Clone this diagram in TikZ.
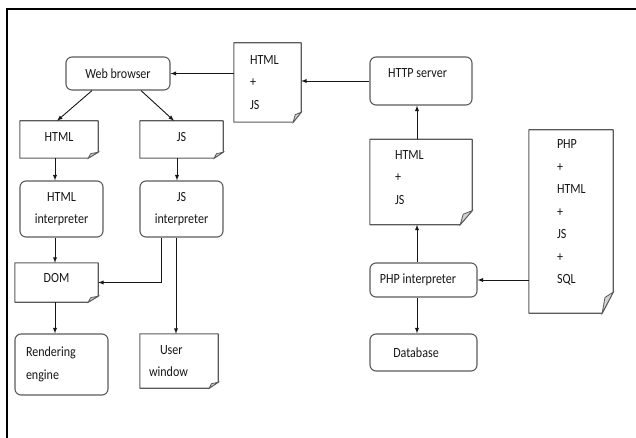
\documentclass[tikz,border=0pt]{standalone}
\usepackage{fontspec}
\setmainfont[FakeStretch=0.86]{Carlito}
\definecolor{boxgray}{HTML}{5A5A5A}
\definecolor{inkgray}{HTML}{161616}

\begin{document}
\begin{tikzpicture}[>=latex, x=1pt, y=-1pt]

    % styles
    \tikzstyle{box}=[draw=boxgray, line width=1.1pt, rounded corners=6pt, inner sep=0pt, text=inkgray, font=\fontsize{14}{22.5}\selectfont]
    \tikzstyle{doc}=[inner sep=0pt, text=inkgray, font=\fontsize{14}{22.5}\selectfont]
    \tikzstyle{docline}=[draw=boxgray, line width=1.1pt, line join=round]
    \tikzstyle{fold}=[draw=boxgray, line width=0.8pt, fill=gray!35]
    \tikzstyle{flow}=[->, line width=0.9pt, inkgray]

    \useasboundingbox (0,0) rectangle (636,438);

    % frame
    \draw[line width=1.6pt] (636,9) -- (7,9) -- (7,438);

    % browser side
    \node[box, minimum width=104, minimum height=33] (browser) at (118,73.5) {Web browser};
    \node[doc, minimum width=67, minimum height=79, text width=35, align=left] (doctop) at (267.5,82.5) {HTML\\+\\JS};
    \node[doc, minimum width=78, minimum height=37, text depth=5] (html) at (59,139.5) {HTML};
    \node[doc, minimum width=83, minimum height=37, text depth=5] (js) at (181.5,139.5) {JS};
    \node[box, minimum width=83, minimum height=56, align=center] (htmlint) at (61.5,209) {HTML\\interpreter};
    \node[box, minimum width=83, minimum height=56, align=center] (jsint) at (181.5,209) {JS\\interpreter};
    \node[doc, minimum width=83, minimum height=39, text depth=9] (dom) at (56.5,282.5) {DOM};
    \node[box, minimum width=93, minimum height=61, text width=71, align=left] (render) at (61.5,364.5) {Rendering\\engine};
    \node[doc, minimum width=78, minimum height=54, text width=60, align=left] (userwin) at (179,361) {\hspace*{11pt}User\\window};

    % server side
    \node[box, minimum width=102, minimum height=48, text depth=16] (httpserver) at (421,81) {HTTP server\hspace*{7pt}};
    \node[doc, minimum width=102, minimum height=85, text width=52, align=left, text depth=54] (htmljs) at (421,182) {HTML\\+\\JS};
    \node[box, minimum width=107, minimum height=34] (phpint) at (423.5,280) {PHP interpreter\hspace*{11pt}};
    \node[box, minimum width=107, minimum height=37] (database) at (423.5,352.5) {Database\hspace*{15pt}};
    \node[doc, minimum width=84, minimum height=183, text width=28, align=left, text depth=154] (phpdoc) at (571,221.5) {PHP\\+\\HTML\\+\\JS\\+\\SQL};

    % document outlines with folded corner
    \foreach \d/\fx/\fy in {doctop/8/10, html/10/6, js/9/6, dom/10/6, userwin/9/6, htmljs/12/14, phpdoc/11/21} {
        \draw[docline] (\d.north west) -- (\d.north east) -- ([yshift=\fy]\d.south east)
            -- ([xshift=-\fx]\d.south east) -- (\d.south west) -- cycle;
        \draw[fold] ([yshift=\fy]\d.south east) -- ([xshift=-\fx]\d.south east)
            -- ([xshift=-0.75*\fx, yshift=0.75*\fy]\d.south east) -- cycle;
    }

    % connectors
    \draw[flow] (httpserver.west) -- (httpserver.west -| doctop.east);
    \draw[flow] (doctop.west |- browser.east) -- (browser.east);
    \draw[flow] ([xshift=-26]browser.south) -- ([xshift=-2]html.north);
    \draw[flow] ([xshift=23]browser.south) -- ([xshift=-7.5]js.north);
    \draw[flow] ([xshift=-4]html.south) -- ([xshift=-4]html.south |- htmlint.north);
    \draw[flow] ([xshift=-4.5]js.south) -- ([xshift=-4.5]js.south |- jsint.north);
    \draw[flow] ([xshift=-6.5]htmlint.south) -- ([xshift=-6.5]htmlint.south |- dom.north);
    \draw[flow] ([xshift=-20]jsint.south) |- (dom.east);
    \draw[flow] ([xshift=-5.5]jsint.south) -- ([xshift=-5.5]jsint.south |- userwin.north);
    \draw[flow] ([xshift=-1.5]dom.south) -- ([xshift=-1.5]dom.south |- render.north);
    \draw[flow] ([xshift=-4]htmljs.north) -- ([xshift=-4]htmljs.north |- httpserver.south);
    \draw[flow] ([xshift=-6.5]phpint.north) -- ([xshift=-6.5]phpint.north |- htmljs.south);
    \draw[flow] ([xshift=-6.5]phpint.south) -- ([xshift=-6.5]phpint.south |- database.north);
    \draw[flow] (phpdoc.west |- phpint.east) -- (phpint.east);

\end{tikzpicture}
\end{document}
